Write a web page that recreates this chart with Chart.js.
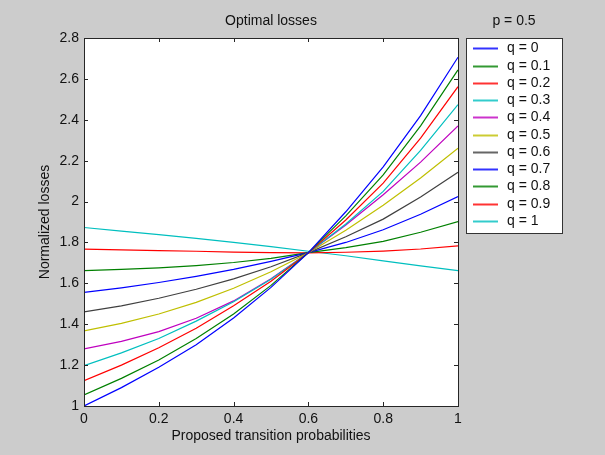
<!DOCTYPE html>
<html>
<head>
<meta charset="utf-8">
<script src="https://cdn.jsdelivr.net/npm/chart.js@4.4.0/dist/chart.umd.min.js"></script>
<style>
	html, body { margin: 0; padding: 0; background: #cccccc; }
	#wrap { width: 605px; height: 455px; }
</style>
</head>
<body>
<div id="wrap"><canvas id="lossChart" width="605" height="455"></canvas></div>
<script>
// proposed transition probabilities (x)
var xValues = [0, 0.1, 0.2, 0.3, 0.4, 0.5, 0.6, 0.7, 0.8, 0.9, 1];

var seriesLabels = ['q = 0', 'q = 0.1', 'q = 0.2', 'q = 0.3', 'q = 0.4', 'q = 0.5',
	'q = 0.6', 'q = 0.7', 'q = 0.8', 'q = 0.9', 'q = 1'];

// normalized losses
var q00 = [1.000, 1.090, 1.190, 1.300, 1.430, 1.580, 1.750, 1.950, 2.170, 2.420, 2.706];
var q01 = [1.054, 1.135, 1.225, 1.330, 1.450, 1.590, 1.750, 1.930, 2.130, 2.370, 2.644];
var q02 = [1.124, 1.200, 1.285, 1.380, 1.490, 1.610, 1.750, 1.910, 2.090, 2.310, 2.562];
var q03 = [1.197, 1.260, 1.330, 1.415, 1.510, 1.620, 1.750, 1.890, 2.050, 2.250, 2.474];
var q04 = [1.279, 1.316, 1.364, 1.429, 1.514, 1.622, 1.750, 1.885, 2.033, 2.193, 2.370];
var q05 = [1.367, 1.404, 1.450, 1.507, 1.576, 1.657, 1.750, 1.860, 1.982, 2.115, 2.261];
var q06 = [1.460, 1.490, 1.527, 1.571, 1.622, 1.681, 1.750, 1.828, 1.914, 2.022, 2.143];
var q07 = [1.556, 1.578, 1.604, 1.634, 1.668, 1.707, 1.750, 1.800, 1.862, 1.938, 2.024];
var q08 = [1.662, 1.668, 1.676, 1.687, 1.702, 1.722, 1.750, 1.775, 1.805, 1.850, 1.902];
var q09 = [1.767, 1.764, 1.760, 1.757, 1.753, 1.750, 1.749, 1.752, 1.758, 1.768, 1.783];
var q10 = [1.873, 1.855, 1.838, 1.820, 1.800, 1.780, 1.757, 1.735, 1.710, 1.685, 1.662];

var seriesValues = [q00, q01, q02, q03, q04, q05, q06, q07, q08, q09, q10];
var seriesColors = ['#0000ff', '#008000', '#ff0000', '#00bfbf', '#bf00bf', '#bfbf00',
	'#404040', '#0000ff', '#008000', '#ff0000', '#00bfbf'];

var xTicks = [0, 0.2, 0.4, 0.6, 0.8, 1];
var yTicks = [1, 1.2, 1.4, 1.6, 1.8, 2, 2.2, 2.4, 2.6, 2.8];

var FONT = '"Liberation Sans", Arial, Helvetica, sans-serif';

var datasets = [];
for (var s = 0; s < seriesValues.length; s++) {
	var pts = [];
	for (var i = 0; i < xValues.length; i++) {
		pts.push({x: xValues[i], y: seriesValues[s][i]});
	}
	datasets.push({
		label: seriesLabels[s],
		data: pts,
		borderColor: seriesColors[s],
		backgroundColor: seriesColors[s],
		borderWidth: 1.2,
		pointRadius: 0,
		tension: 0,
		fill: false
	});
}

// matlab look: gray figure, boxed axes with inward ticks, boxed legend
var matlabFrame = {
	id: 'matlabFrame',
	beforeDraw: function(chart) {
		var ctx = chart.ctx, a = chart.chartArea;
		ctx.save();
		ctx.fillStyle = '#cccccc';
		ctx.fillRect(0, 0, chart.width, chart.height);
		ctx.fillStyle = '#ffffff';
		ctx.fillRect(a.left, a.top, a.right - a.left, a.bottom - a.top);
		ctx.restore();
	},
	afterDatasetsDraw: function(chart) {
		var ctx = chart.ctx, a = chart.chartArea;
		var xs = chart.scales.x, ys = chart.scales.y;
		ctx.save();
		ctx.strokeStyle = '#262626';
		ctx.lineWidth = 1;
		ctx.strokeRect(a.left + 0.5, a.top + 0.5, a.right - a.left, a.bottom - a.top);
		ctx.beginPath();
		xTicks.forEach(function(v) {
			var px = Math.round(xs.getPixelForValue(v)) + 0.5;
			ctx.moveTo(px, a.bottom); ctx.lineTo(px, a.bottom - 4);
			ctx.moveTo(px, a.top); ctx.lineTo(px, a.top + 4);
		});
		yTicks.forEach(function(v) {
			var py = Math.round(ys.getPixelForValue(v)) + 0.5;
			ctx.moveTo(a.left, py); ctx.lineTo(a.left + 4, py);
			ctx.moveTo(a.right, py); ctx.lineTo(a.right - 4, py);
		});
		ctx.stroke();
		ctx.restore();
	},
	afterDraw: function(chart) {
		var ctx = chart.ctx, a = chart.chartArea;
		ctx.save();
		ctx.fillStyle = '#111111';
		ctx.font = '14px ' + FONT;
		ctx.textAlign = 'center';
		ctx.textBaseline = 'middle';
		ctx.fillText('Optimal losses', (a.left + a.right) / 2, 21);

		// legend
		var lx = 466, ly = 38, lw = 96, lh = 195;
		ctx.fillText('p = 0.5', lx + lw / 2, 21);
		ctx.fillStyle = '#ffffff';
		ctx.fillRect(lx, ly, lw, lh);
		ctx.strokeStyle = '#333333';
		ctx.lineWidth = 1;
		ctx.strokeRect(lx + 0.5, ly + 0.5, lw, lh);
		ctx.textAlign = 'left';
		for (var k = 0; k < seriesLabels.length; k++) {
			var y = Math.round(ly + 10.3 + k * 17.27);
			ctx.globalAlpha = 0.8;
			ctx.fillStyle = seriesColors[k];
			ctx.fillRect(473, y - 0.5, 25, 2);
			ctx.globalAlpha = 1;
			ctx.fillStyle = '#111111';
			ctx.fillText(seriesLabels[k], 507, y + 0.5);
		}
		ctx.restore();
	}
};

var chart = new Chart(document.getElementById('lossChart').getContext('2d'), {
	type: 'line',
	data: {datasets: datasets},
	plugins: [matlabFrame],
	options: {
		responsive: false,
		animation: false,
		devicePixelRatio: 1,
		layout: {padding: {left: 0, top: 38, right: 147, bottom: 0}},
		plugins: {legend: {display: false}, tooltip: {enabled: false}, title: {display: false}},
		scales: {
			x: {
				type: 'linear', min: 0, max: 1,
				afterBuildTicks: function(scale) { scale.ticks = xTicks.map(function(v) { return {value: v}; }); },
				afterFit: function(scale) { scale.height = 49; },
				grid: {display: false, drawTicks: false},
				border: {display: false},
				ticks: {color: '#111111', font: {family: FONT, size: 14}, padding: 5, maxRotation: 0,
					callback: function(v) { return String(v); }},
				title: {display: true, text: 'Proposed transition probabilities', color: '#111111',
					font: {family: FONT, size: 14}, padding: {top: 0, bottom: 10}}
			},
			y: {
				type: 'linear', min: 1, max: 2.8,
				afterBuildTicks: function(scale) { scale.ticks = yTicks.map(function(v) { return {value: v}; }); },
				afterFit: function(scale) { scale.width = 84; },
				grid: {display: false, drawTicks: false},
				border: {display: false},
				ticks: {color: '#111111', font: {family: FONT, size: 14}, padding: 5,
					callback: function(v) { return String(v); }},
				title: {display: true, text: 'Normalized losses', color: '#111111',
					font: {family: FONT, size: 14}, padding: {top: 37, bottom: 0}}
			}
		}
	}
});
</script>
</body>
</html>
